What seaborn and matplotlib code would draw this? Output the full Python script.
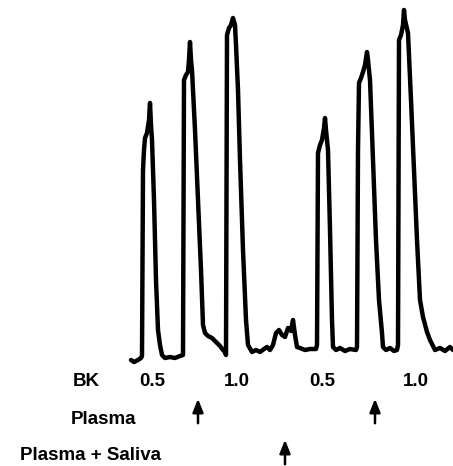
import numpy as np
import pandas as pd
import matplotlib
matplotlib.use('Agg')
import matplotlib.pyplot as plt
import seaborn as sns

trace_t = [131, 134, 138, 141,
           142, 143, 144, 145, 147, 149, 150, 151, 152, 154, 156, 158, 160, 162, 165, 170, 175, 180, 183,
           184, 186, 188, 189, 190, 191, 192, 195, 198, 201, 203, 205, 208, 212, 216, 220, 223, 225,
           226, 227, 229, 231, 233, 235, 236, 238, 240, 243, 246, 248, 252, 256, 260, 264, 267, 270,
           273, 276, 279, 282, 285, 288, 291, 293, 295, 297, 300, 305, 310, 316,
           317, 318, 320, 322, 324, 325, 326, 328, 330, 332, 333, 336, 340, 345, 350, 356,
           357, 358, 359, 361, 363, 365, 367, 368, 370, 373, 376, 379, 382, 383, 386, 390, 394, 397,
           398, 399, 401, 403, 404, 405, 408, 411, 414, 417, 420, 423, 427, 430, 435, 440, 445, 450, 453]
trace_y = [360, 362, 360, 358,
           356, 170, 150, 138, 133, 120, 103, 125, 140, 200, 280, 330, 345, 355, 358, 357, 358, 356, 355,
           80, 75, 72, 60, 42, 60, 70, 130, 200, 270, 325, 333, 336, 338, 342, 346, 350, 352,
           355, 35, 28, 25, 18, 25, 45, 90, 160, 250, 320, 345, 352, 350, 352, 349, 347, 350,
           345, 333, 330, 335, 337, 328, 331, 320, 335, 347, 348, 350, 349, 349,
           345, 153, 145, 140, 128, 118, 130, 150, 230, 320, 347, 350, 348, 351, 349, 350,
           347, 150, 83, 78, 72, 65, 52, 60, 80, 160, 240, 300, 333, 347, 350, 348, 351, 350,
           345, 40, 35, 25, 10, 20, 33, 100, 170, 240, 300, 317, 332, 340, 350, 348, 351, 347, 350]

dose_labels = ['0.5', '1.0', '0.5', '1.0']
dose_t = [152, 237, 322, 416]
plasma_t = [198, 375]
saliva_t = [285]

df = pd.DataFrame({'t': trace_t, 'y': trace_y})

fig = plt.figure(figsize=(4.53, 4.66), dpi=100)
ax = fig.add_axes([0, 0, 1, 1])
sns.lineplot(data=df, x='t', y='y', ax=ax, color='black', linewidth=3.2,
             estimator=None, sort=False, solid_joinstyle='round', solid_capstyle='round')
ax.set_xlim(0, 453)
ax.set_ylim(466, 0)
ax.axis('off')

font = dict(family=['Liberation Sans', 'DejaVu Sans'], fontweight='bold', fontsize=13.5,
            color='black', ha='center', va='center')

ax.text(86, 382, 'BK', **font)
for lab, t in zip(dose_labels, dose_t):
    ax.text(t, 382, lab, **font)
ax.text(103, 420, 'Plasma', **font)
ax.text(90, 455, 'Plasma + Saliva', **font)

arrow = dict(arrowstyle='-|>,head_width=0.32,head_length=0.8', color='black', lw=1.8)
for t in plasma_t:
    ax.annotate('', xy=(t, 396), xytext=(t, 426), arrowprops=arrow)
for t in saliva_t:
    ax.annotate('', xy=(t, 437), xytext=(t, 467), arrowprops=arrow)

fig.savefig('out.png', dpi=100)
